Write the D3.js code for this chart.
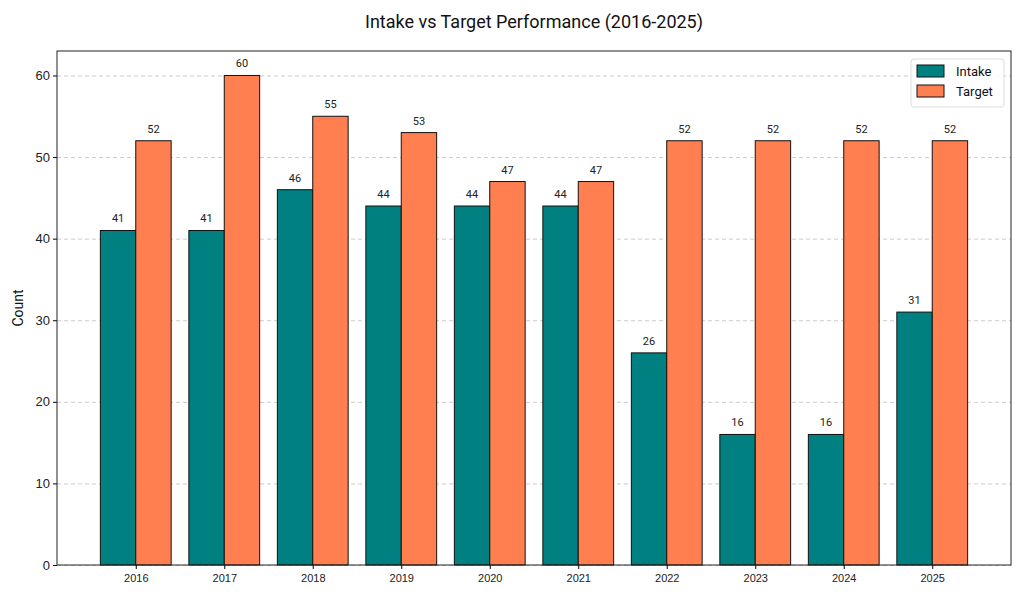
<!DOCTYPE html>
<html>
<head>
<meta charset="utf-8">
<script src="https://cdn.jsdelivr.net/npm/d3@7"></script>
<style>
  body { margin: 0; background: #fff; }
  svg { font-family: Roboto, "Noto Sans", sans-serif; }
  .grid line { stroke: #cccccc; stroke-dasharray: 4,3; }
  .grid path { display: none; }
</style>
</head>
<body>
<svg id="chart"></svg>
<script>
// Data
const years = ["2016", "2017", "2018", "2019", "2020", "2021", "2022", "2023", "2024", "2025"];
const intake = [41, 41, 46, 44, 44, 44, 26, 16, 16, 31];
const target = [52, 60, 55, 53, 47, 47, 52, 52, 52, 52];
const yTicks = [0, 10, 20, 30, 40, 50, 60];

const colors = { Intake: "#008080", Target: "#FF7F50" };

const W = 1024, H = 597;
const margin = { top: 51, right: 13, bottom: 32, left: 57 };
const width = W - margin.left - margin.right;
const height = H - margin.top - margin.bottom;

const svg = d3.select("#chart").attr("width", W).attr("height", H);
const g = svg.append("g").attr("transform", `translate(${margin.left},${margin.top})`);

// scales (matplotlib-like: bars at i -/+ 0.2, width 0.4, 5% margins)
const x = d3.scaleLinear().domain([-0.89, 9.89]).range([0, width]);
const y = d3.scaleLinear().domain([0, 63]).range([height, 0]);
const bw = x(0.4) - x(0);

// grid
g.append("g")
  .attr("class", "grid")
  .call(d3.axisLeft(y).tickValues(yTicks).tickSize(-width).tickFormat(""));

// bars
const series = [
  { name: "Intake", values: intake, off: -0.4 },
  { name: "Target", values: target, off: 0 },
];

series.forEach((s) => {
  g.selectAll(".bar-" + s.name)
    .data(s.values)
    .enter()
    .append("rect")
    .attr("x", (d, i) => x(i + s.off))
    .attr("y", (d) => y(d))
    .attr("width", bw)
    .attr("height", (d) => y(0) - y(d))
    .attr("fill", colors[s.name])
    .attr("stroke", "#111")
    .attr("stroke-width", 1);

  g.selectAll(".lbl-" + s.name)
    .data(s.values)
    .enter()
    .append("text")
    .attr("x", (d, i) => x(i + s.off + 0.2))
    .attr("y", (d) => y(d) - 8)
    .attr("text-anchor", "middle")
    .attr("font-size", 11)
    .attr("fill", "#222")
    .text((d) => d);
});

// axes
const xAxis = g.append("g")
  .attr("transform", `translate(0,${height})`)
  .call(d3.axisBottom(x).tickValues(d3.range(years.length)).tickFormat((i) => years[i]).tickSize(4));
xAxis.selectAll("text").attr("font-size", 11).attr("fill", "#222").attr("dy", "0.9em");
xAxis.select(".domain").remove();

const yAxis = g.append("g")
  .call(d3.axisLeft(y).tickValues(yTicks).tickSize(4));
yAxis.selectAll("text").attr("font-size", 13).attr("fill", "#222");
yAxis.select(".domain").remove();

// frame
g.append("rect")
  .attr("width", width)
  .attr("height", height)
  .attr("fill", "none")
  .attr("stroke", "#222")
  .attr("stroke-width", 1);

// title and label
svg.append("text")
  .attr("x", margin.left + width / 2)
  .attr("y", 28)
  .attr("text-anchor", "middle")
  .attr("font-size", 18)
  .attr("fill", "#111")
  .text("Intake vs Target Performance (2016-2025)");

svg.append("text")
  .attr("transform", "rotate(-90)")
  .attr("x", -(margin.top + height / 2))
  .attr("y", 23)
  .attr("text-anchor", "middle")
  .attr("font-size", 14)
  .attr("fill", "#111")
  .text("Count");

// legend
const legend = svg.append("g").attr("transform", "translate(911,59)");
legend.append("rect")
  .attr("width", 93).attr("height", 48).attr("rx", 3)
  .attr("fill", "#fff").attr("fill-opacity", 0.8)
  .attr("stroke", "#ddd");
series.forEach((s, i) => {
  legend.append("rect")
    .attr("x", 6).attr("y", 6 + i * 20)
    .attr("width", 27).attr("height", 12)
    .attr("fill", colors[s.name]).attr("stroke", "#111");
  legend.append("text")
    .attr("x", 45).attr("y", 12 + i * 20)
    .attr("dy", "0.35em")
    .attr("font-size", 13)
    .attr("fill", "#111")
    .text(s.name);
});
</script>
</body>
</html>
